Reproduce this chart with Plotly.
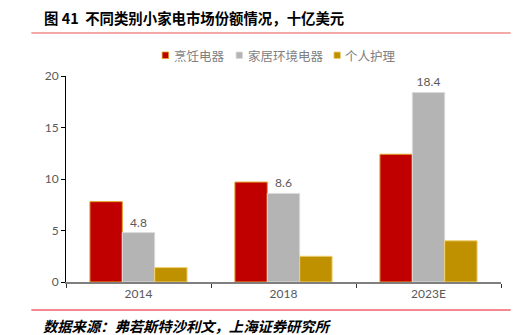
import plotly.graph_objects as go

categories = ["2014", "2018", "2023E"]
cooking = [7.8, 9.7, 12.4]
home_env = [4.8, 8.6, 18.4]
personal_care = [1.4, 2.5, 4.0]
series_names = ["烹饪电器", "家居环境电器", "个人护理"]
y_ticks = [0, 5, 10, 15, 20]

title_text = "图 41  不同类别小家电市场份额情况，十亿美元"
source_text = "数据来源：弗若斯特沙利文，上海证券研究所"

W, H = 520, 335
L, R, T, B = 65.7, 18.7, 76, 53
pw, ph = W - L - R, H - T - B


def px(x):
    return (x - L) / pw


def py(y):
    return (H - B - y) / ph


fill_colors = ["#C00000", "#B4B4B4", "#BF9000"]
line_colors = ["#E0A020", "#DCDCDC", "#F0D070"]
series_values = [cooking, home_env, personal_care]

fig = go.Figure()
for i, (name, vals) in enumerate(zip(series_names, series_values)):
    kw = {}
    if i == 1:
        kw = dict(
            text=[f"{v:.1f}" for v in vals], textposition="outside",
            textfont=dict(color="#595959", size=12, family="Lato, Liberation Sans"),
            cliponaxis=False,
        )
    fig.add_trace(go.Bar(
        x=categories, y=vals, name=name,
        marker=dict(color=fill_colors[i], line=dict(color=line_colors[i], width=1)),
        showlegend=False, **kw,
    ))

# custom legend (small squares close to the text, as in the reference)
legend_sq_x = [162, 236, 334]
legend_y = 55
shapes = [
    dict(type="line", xref="paper", yref="paper", x0=px(31), x1=px(511), y0=py(33), y1=py(33),
         line=dict(color="#F08C8C", width=1.5)),
    dict(type="line", xref="paper", yref="paper", x0=px(31), x1=px(511), y0=py(310), y1=py(310),
         line=dict(color="#E8141E", width=1)),
]
annotations = [
    dict(text=f"<b>{title_text}</b>", xref="paper", yref="paper", x=px(42), y=py(18),
         xanchor="left", yanchor="middle", showarrow=False,
         font=dict(size=14.4, color="#000000", family="Noto Sans CJK SC")),
    dict(text=f"<b><i>{source_text}</i></b>", xref="paper", yref="paper", x=px(41), y=py(325),
         xanchor="left", yanchor="middle", showarrow=False,
         font=dict(size=14.3, color="#000000", family="Noto Sans CJK SC")),
]
for i, name in enumerate(series_names):
    sx = legend_sq_x[i]
    shapes.append(dict(type="rect", xref="paper", yref="paper",
                       x0=px(sx), x1=px(sx + 6.5), y0=py(legend_y + 3.5), y1=py(legend_y - 3),
                       fillcolor=fill_colors[i], line=dict(color=line_colors[i], width=0.8)))
    annotations.append(dict(text=name, xref="paper", yref="paper", x=px(sx + 9.5), y=py(legend_y),
                            xanchor="left", yanchor="middle", showarrow=False,
                            font=dict(size=12.5, color="#808080", family="Noto Sans CJK SC")))

fig.update_layout(
    width=W, height=H,
    margin=dict(l=L, r=R, t=T, b=B, pad=0),
    paper_bgcolor="white", plot_bgcolor="white",
    barmode="group", bargap=0.33, bargroupgap=0,
    font=dict(family="Noto Sans CJK SC", color="#595959"),
    showlegend=False,
    xaxis=dict(
        type="category", showline=True, linecolor="#7F7F7F", linewidth=1.5,
        ticks="outside", tickson="boundaries", ticklen=4, tickcolor="#333333",
        tickfont=dict(size=12, color="#595959", family="Lato, Liberation Sans"),
        showgrid=False, zeroline=False,
    ),
    yaxis=dict(
        range=[0, 20], tickvals=y_ticks, showline=True, linecolor="#000000", linewidth=1,
        ticks="outside", ticklen=4, tickcolor="#000000",
        tickfont=dict(size=12, color="#595959", family="Lato, Liberation Sans"),
        showgrid=False, zeroline=False,
    ),
    shapes=shapes,
    annotations=annotations,
)

fig.write_html("out.html")
